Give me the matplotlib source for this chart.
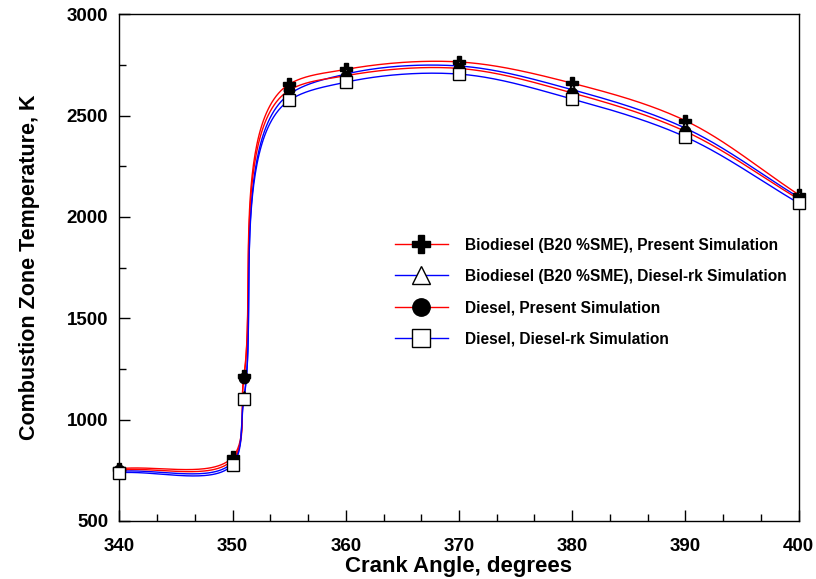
import numpy as np
import matplotlib
matplotlib.use("Agg")
import matplotlib.pyplot as plt
from matplotlib.ticker import MultipleLocator, AutoMinorLocator

# crank angle of the plotted points
crank_angle = [340, 350, 351, 355, 360, 370, 380, 390, 400]

# combustion zone temperature, K
bio_present = [758, 815, 1215, 2655, 2728, 2765, 2660, 2475, 2110]
bio_dieselrk = [745, 790, 1110, 2605, 2705, 2745, 2628, 2438, 2097]
diesel_present = [752, 802, 1205, 2625, 2697, 2733, 2612, 2422, 2088]
diesel_dieselrk = [738, 778, 1100, 2575, 2665, 2705, 2582, 2395, 2068]

labels = [
    "Biodiesel (B20 %SME), Present Simulation",
    "Biodiesel (B20 %SME), Diesel-rk Simulation",
    "Diesel, Present Simulation",
    "Diesel, Diesel-rk Simulation",
]

plt.rcParams["font.family"] = ["Liberation Sans", "DejaVu Sans"]
plt.rcParams["font.weight"] = "bold"

XLIM = (340, 400)
YLIM = (500, 3000)


def smooth_curve(x, y, sx, sy, n=60, alpha=0.8):
    """Catmull-Rom curve through the points, knots spaced in pixels."""
    P = np.column_stack([(np.asarray(x, float) - XLIM[0]) * sx,
                         (np.asarray(y, float) - YLIM[0]) * sy])
    P = np.vstack([2 * P[0] - P[1], P, 2 * P[-1] - P[-2]])
    pts = []
    for i in range(1, len(P) - 2):
        p0, p1, p2, p3 = P[i - 1], P[i], P[i + 1], P[i + 2]
        t0 = 0.0
        t1 = t0 + np.linalg.norm(p1 - p0) ** alpha
        t2 = t1 + np.linalg.norm(p2 - p1) ** alpha
        t3 = t2 + np.linalg.norm(p3 - p2) ** alpha
        t = np.linspace(t1, t2, n)[:, None]
        a1 = (t1 - t) / (t1 - t0) * p0 + (t - t0) / (t1 - t0) * p1
        a2 = (t2 - t) / (t2 - t1) * p1 + (t - t1) / (t2 - t1) * p2
        a3 = (t3 - t) / (t3 - t2) * p2 + (t - t2) / (t3 - t2) * p3
        b1 = (t2 - t) / (t2 - t0) * a1 + (t - t0) / (t2 - t0) * a2
        b2 = (t3 - t) / (t3 - t1) * a2 + (t - t1) / (t3 - t1) * a3
        c = (t2 - t) / (t2 - t1) * b1 + (t - t1) / (t2 - t1) * b2
        pts.append(c)
    pts = np.vstack(pts)
    return pts[:, 0] / sx + XLIM[0], pts[:, 1] / sy + YLIM[0]


fig = plt.figure(figsize=(8.16, 5.79), dpi=100)
ax = fig.add_axes([0.1462, 0.1002, 0.8326, 0.8751])

# pixels per data unit, used for the curve parameterisation
sx = 679.0 / (XLIM[1] - XLIM[0])
sy = 507.0 / (YLIM[1] - YLIM[0])

series = [bio_present, bio_dieselrk, diesel_present, diesel_dieselrk]
line_colors = ["red", "blue", "red", "blue"]
markers = ["P", "^", "o", "s"]
msizes = [9, 8, 7.5, 8.5]
leg_sizes = [13, 12.5, 12.5, 13.5]
mfaces = ["black", "white", "black", "white"]

handles = []
for yv, col, mk, ms, ls, mf, lab in zip(series, line_colors, markers, msizes,
                                        leg_sizes, mfaces, labels):
    cx, cy = smooth_curve(crank_angle, yv, sx, sy)
    ax.plot(cx, cy, color=col, lw=1.0, zorder=2)
    ax.plot(crank_angle, yv, linestyle="none", marker=mk, ms=ms,
            mfc=mf, mec="black", mew=1.0, zorder=3, clip_on=False)
    h, = ax.plot([], [], color=col, lw=1.0, marker=mk, ms=ls,
                 mfc=mf, mec="black", mew=1.0)
    handles.append(h)

ax.set_xlim(*XLIM)
ax.set_ylim(*YLIM)
ax.xaxis.set_major_locator(MultipleLocator(10))
ax.xaxis.set_minor_locator(AutoMinorLocator(3))
ax.yaxis.set_major_locator(MultipleLocator(500))
ax.yaxis.set_minor_locator(AutoMinorLocator(2))
ax.tick_params(which="both", direction="in", top=False, right=False,
               labelsize=13.5, width=1.0)
ax.tick_params(axis="x", pad=12)
ax.tick_params(axis="y", pad=8)
ax.tick_params(which="major", length=8)
ax.tick_params(which="minor", length=5)
for lbl in ax.get_xticklabels() + ax.get_yticklabels():
    lbl.set_fontweight("bold")
for sp in ax.spines.values():
    sp.set_linewidth(1.0)

ax.set_xlabel("Crank Angle, degrees", fontsize=16, fontweight="bold", labelpad=1)
ax.set_ylabel("Combustion Zone Temperature, K", fontsize=15.5, fontweight="bold", labelpad=19)

leg = ax.legend(handles, labels, loc="upper left", bbox_to_anchor=(0.385, 0.587),
                frameon=False, fontsize=11.2, handlelength=3.4, handletextpad=1.1,
                labelspacing=1.05)
for t in leg.get_texts():
    t.set_fontweight("bold")

fig.savefig("out.png", dpi=100)
